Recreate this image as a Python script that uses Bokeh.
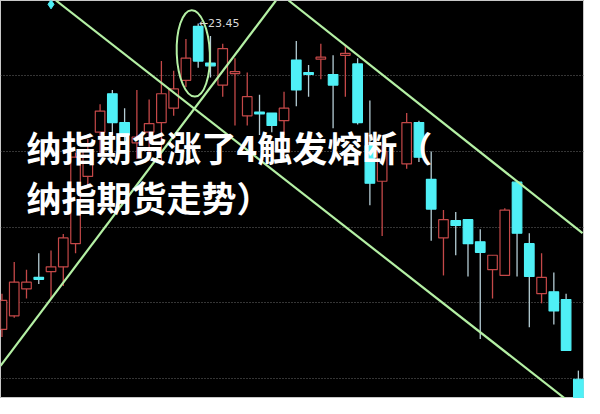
import numpy as np
from bokeh.plotting import figure
from bokeh.models import Range1d
from bokeh.core.properties import value
from bokeh.embed import file_html
from bokeh.resources import INLINE

# ---- candle data (index, open, close, high, low) ----
opens = [20.27, 20.41, 20.69, 20.81, 20.87, 20.92, 21.16, 21.86, 22.32, 22.72,
         22.42, 22.21, 22.32, 22.42, 22.57, 22.86, 23.42, 23.04, 22.81, 22.93,
         22.49, 22.53, 22.52, 22.44, 23.07, 22.94, 23.08, 22.92, 23.12, 23.03,
         22.18, 21.81, np.nan, 21.99, 22.42, 21.83, 21.22, 21.40, 21.41, 21.18,
         20.89, 20.83, 21.80, 21.16, 20.64, 20.66, 20.58, 19.75]
closes = [20.57, 20.76, 20.76, 20.79, 20.92, 21.22, 22.06, 22.14, 22.54, 22.42,
          22.29, 22.27, 22.41, 22.72, 22.77, 23.09, 23.06, 23.01, 23.19, 22.95,
          22.69, 22.51, 22.39, 22.57, 22.76, 22.92, 23.10, 22.81, 23.14, 22.42,
          21.79, 22.12, np.nan, 22.42, 22.06, 21.52, 21.41, 21.35, 21.16, 21.07,
          21.04, 21.51, 21.27, 20.82, 20.81, 20.46, 20.05, 19.45]
highs = [20.64, 20.97, 20.89, 21.06, 21.09, 21.26, 22.11, 22.25, 22.61, 22.76,
         22.57, 22.76, 22.66, 23.06, 22.96, 23.29, 23.45, 23.32, 23.24, 23.09,
         22.94, 22.71, 22.52, 22.74, 23.27, 23.02, 23.24, 23.12, 23.22, 23.09,
         22.65, 22.19, np.nan, 22.52, 22.44, 22.12, 21.51, 21.49, 21.41, 21.31,
         21.04, 21.53, 21.80, 21.27, 21.06, 20.86, 20.64, 19.84]
lows = [20.19, 20.39, 20.59, 20.74, 20.59, 20.72, 21.06, 21.77, 22.06, 22.29,
        22.19, 22.04, 22.09, 22.02, 22.49, 22.79, 22.99, 22.89, 22.69, 22.39,
        22.39, 22.29, 22.32, 22.29, 22.59, 22.69, 22.87, 22.36, 22.69, 22.40,
        21.56, 21.24, np.nan, 21.94, 22.01, 21.19, 20.83, 21.04, 20.82, 20.17,
        20.59, 20.83, 20.82, 20.29, 20.54, 20.32, 20.05, 19.40]

grid_levels = [22.91, 22.12, 21.33, 20.55, 19.76]
peak_label = "←23.45"
peak_index = 16
peak_value = 23.45
marker_x = [4]
marker_y = [23.65]

# trend channel lines (index, price)
trend_x = [[4.40, 45.91], [-0.12, 22.34], [23.37, 47.34]]
trend_y = [[23.69, 19.55], [19.89, 23.69], [23.69, 21.27]]
ellipse_x, ellipse_y, ellipse_w, ellipse_h = 15.6, 23.14, 2.7, 0.90

title_lines = ["纳指期货涨了4触发熔断（", "纳指期货走势）"]
title_x = 2.0
title_y = [22.17, 21.65]

# ---- derived ----
o = np.array(opens); c = np.array(closes)
h = np.array(highs); l = np.array(lows)
idx = np.arange(len(o))
up = c > o
CYAN = "#4ff0f6"
RED = "#c44848"
GREEN = "#b4f0a4"
body_top = np.maximum(o, c)
body_bot = np.minimum(o, c)
wick_col = [RED if u else "#b4ccd4" for u in up]
body_fill = ["black" if u else CYAN for u in up]
body_line = [RED if u else CYAN for u in up]

p = figure(width=584, height=398, x_range=Range1d(-0.12, 47.5),
           y_range=Range1d(19.55, 23.69), output_backend="svg",
           toolbar_location=None, min_border=0,
           x_axis_location=None, y_axis_location=None,
           background_fill_color="black", border_fill_color="black")
p.xgrid.visible = False
p.ygrid.visible = False
p.outline_line_color = "#c8c8c8"
p.outline_line_width = 1

p.hspan(y=grid_levels, line_color="#6a6a6a", line_dash="1 2", line_width=1)

p.segment(x0=idx, y0=h, x1=idx, y1=l, line_color=wick_col, line_width=1.3)
p.vbar(x=idx, width=0.78, top=body_top, bottom=body_bot,
       fill_color=body_fill, line_color=body_line, line_width=1.2)

p.scatter(x=marker_x, y=marker_y, marker="diamond", size=9, color=CYAN)

p.multi_line(xs=trend_x, ys=trend_y, line_color=GREEN, line_width=2.2)
p.ellipse(x=[ellipse_x], y=[ellipse_y], width=ellipse_w, height=ellipse_h,
          angle=0.04, fill_alpha=0, line_color=GREEN, line_width=2)

p.text(x=[peak_index + 0.05], y=[peak_value], text=[peak_label],
       text_font=value("DejaVu Sans"), text_font_size="11px",
       text_color="#d8d8d8", text_baseline="middle", text_align="left")

p.text(x=[title_x, title_x], y=title_y, text=title_lines,
       text_font=value("Noto Sans CJK SC"), text_font_size="35px",
       text_font_style="bold", text_color="white",
       text_baseline="middle", text_align="left")

open("out.html", "w").write(file_html(p, INLINE))
